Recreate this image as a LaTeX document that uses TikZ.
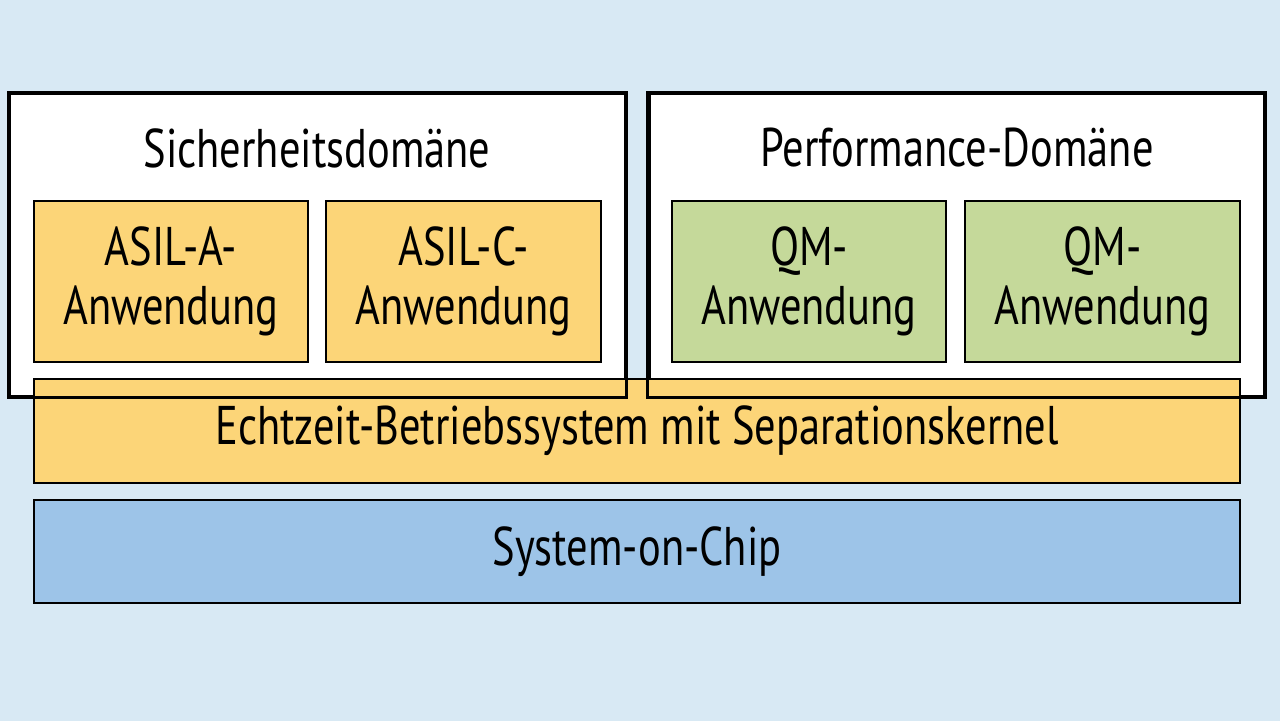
\documentclass[tikz,border=0pt]{standalone}
\usepackage{fontspec}
\setmainfont{PT Sans}[FakeStretch=0.78]
\usepackage{tikz}
\usetikzlibrary{positioning}
\usepackage{xcolor}
\definecolor{hintergrund}{RGB}{216,233,244}
\definecolor{asilgelb}{RGB}{252,213,120}
\definecolor{qmgruen}{RGB}{197,217,154}
\definecolor{socblau}{RGB}{157,196,232}

\begin{document}
\begin{tikzpicture}[font=\fontsize{31}{34}\selectfont,
  domaene/.style={draw=black, line width=1.7pt, fill=white, minimum width=12.3cm, minimum height=6.04cm},
  anwendung/.style={draw=black, line width=1.1pt, minimum height=3.22cm, align=center, inner sep=0pt},
  schicht/.style={draw=black, line width=1.1pt, minimum width=24.12cm, minimum height=2.07cm, inner sep=0pt}]
  % Hintergrund
  \fill[hintergrund] (0,0) rectangle (25.6,14.42);
  \useasboundingbox (0,0) rectangle (25.6,14.42);
  % Domaenen
  \node[domaene] (sicher) at (6.35,9.52) {};
  \node[domaene] (perf) at (19.13,9.52) {};
  \node (sichertitel) at (6.34,11.46) {Sicherheitsdomäne};
  \node (perftitel) at (19.14,11.46) {Performance-Domäne};
  % Anwendungen
  \node[anwendung, fill=asilgelb, minimum width=5.48cm] (asila) at (3.42,8.79) {ASIL-A-\\Anwendung};
  \node[anwendung, fill=asilgelb, minimum width=5.5cm] (asilc) at (9.27,8.79) {ASIL-C-\\Anwendung};
  \node[anwendung, fill=qmgruen, minimum width=5.48cm] (qma) at (16.18,8.79) {QM-\\Anwendung};
  \node[anwendung, fill=qmgruen, minimum width=5.5cm] (qmb) at (22.05,8.79) {QM-\\Anwendung};
  % Betriebssystem und Chip
  \node[schicht, fill=asilgelb] (rtos) at (12.74,5.8) {Echtzeit-Betriebssystem mit Separationskernel};
  \node[schicht, fill=socblau] (soc) at (12.74,3.39) {System-on-Chip};
  % Domaenenrahmen ueber dem Betriebssystem
  \draw[line width=1.7pt] (sicher.north west) rectangle (sicher.south east);
  \draw[line width=1.7pt] (perf.north west) rectangle (perf.south east);
\end{tikzpicture}
\end{document}
